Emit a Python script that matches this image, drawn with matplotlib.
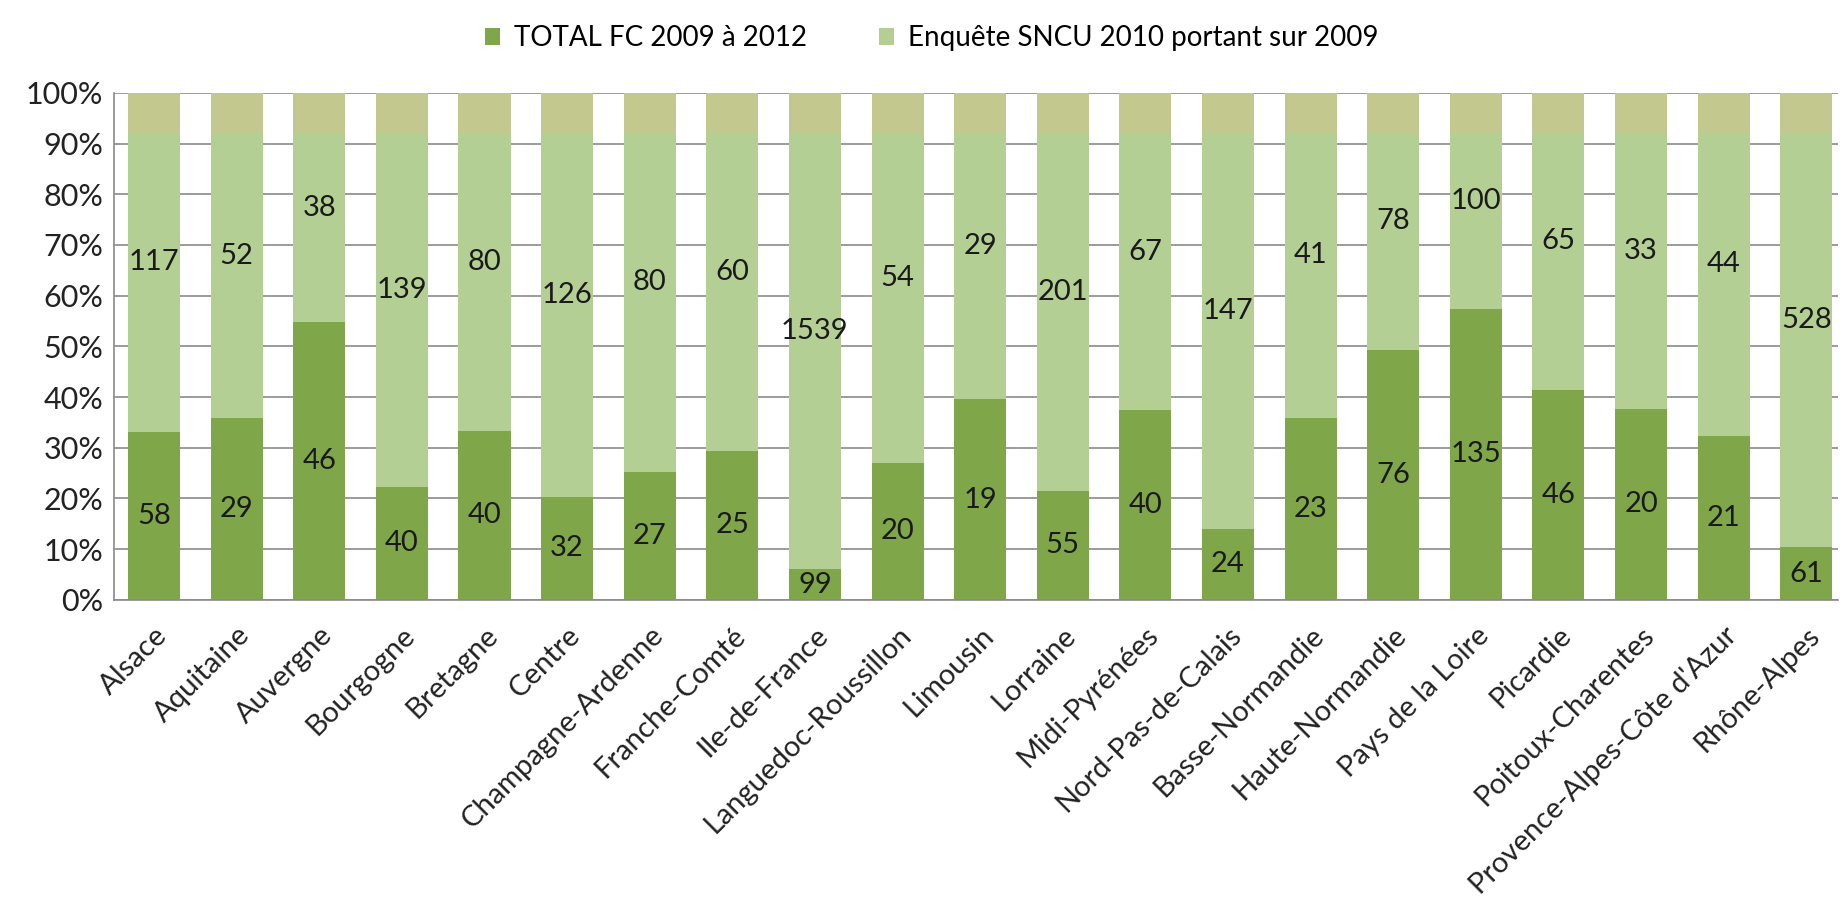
import matplotlib
matplotlib.use("Agg")
import matplotlib.pyplot as plt
import numpy as np

regions = ["Alsace", "Aquitaine", "Auvergne", "Bourgogne", "Bretagne", "Centre",
           "Champagne-Ardenne", "Franche-Comté", "Ile-de-France", "Languedoc-Roussillon",
           "Limousin", "Lorraine", "Midi-Pyrénées", "Nord-Pas-de-Calais", "Basse-Normandie",
           "Haute-Normandie", "Pays de la Loire", "Picardie", "Poitoux-Charentes",
           "Provence-Alpes-Côte d'Azur", "Rhône-Alpes"]
total_fc = [58, 29, 46, 40, 40, 32, 27, 25, 99, 20, 19, 55, 40, 24, 23, 76, 135, 46, 20, 21, 61]
sncu = [117, 52, 38, 139, 80, 126, 80, 60, 1539, 54, 29, 201, 67, 147, 41, 78, 100, 65, 33, 44, 528]

dark = "#80a64a"
light = "#b4cf93"
band = "#c3c88f"

plt.rcParams['font.family'] = ['Lato', 'DejaVu Sans']

fc = np.array(total_fc, dtype=float)
sn = np.array(sncu, dtype=float)
tot = fc + sn
p_fc = fc / tot
p_sn = sn / tot

fig = plt.figure(figsize=(18.45, 9.02), dpi=100)
ax = fig.add_axes([0.062, 0.335, 0.934, 0.562])

x = np.arange(len(regions))
w = 0.63
ax.bar(x, p_fc, width=w, color=dark, zorder=2, label="TOTAL FC 2009 à 2012")
ax.bar(x, p_sn, width=w, bottom=p_fc, color=light, zorder=2,
       label="Enquête SNCU 2010 portant sur 2009")
# scanned overlay band on top of every bar
ax.bar(x, 0.08, width=w, bottom=0.92, color=band, zorder=2)

for i in range(len(regions)):
    ax.text(x[i], p_fc[i] / 2, str(total_fc[i]), ha='center', va='center',
            fontsize=21, color='#1a1a1a', zorder=3)
    ax.text(x[i], p_fc[i] + p_sn[i] / 2, str(sncu[i]), ha='center', va='center',
            fontsize=21, color='#1a1a1a', zorder=3)

ax.set_xlim(-0.48, len(regions) - 0.62)
ax.set_ylim(0, 1)
ax.set_yticks(np.arange(0, 1.01, 0.1))
ax.set_yticklabels([f"{int(round(v * 100))}%" for v in np.arange(0, 1.01, 0.1)], fontsize=22)
ax.set_xticks(x)
ax.set_xticklabels(regions, rotation=45, ha='right', rotation_mode='anchor', fontsize=21)
ax.tick_params(axis='both', length=0, colors='#222222')
ax.tick_params(axis='x', pad=16)
ax.tick_params(axis='y', pad=8)

ax.grid(axis='y', color='#8a8a8a', linewidth=1.2, zorder=0)
for s in ['top', 'right']:
    ax.spines[s].set_visible(False)
for s in ['left', 'bottom']:
    ax.spines[s].set_color('#8a8a8a')
    ax.spines[s].set_linewidth(1.2)

h, l = ax.get_legend_handles_labels()
fig.legend(h[:2], l[:2], loc='upper center', bbox_to_anchor=(0.505, 1.0), ncol=2,
           frameon=False, fontsize=20, handlelength=0.55, handleheight=0.55,
           handletextpad=0.5, columnspacing=2.6)

fig.savefig("out.png", dpi=100)
